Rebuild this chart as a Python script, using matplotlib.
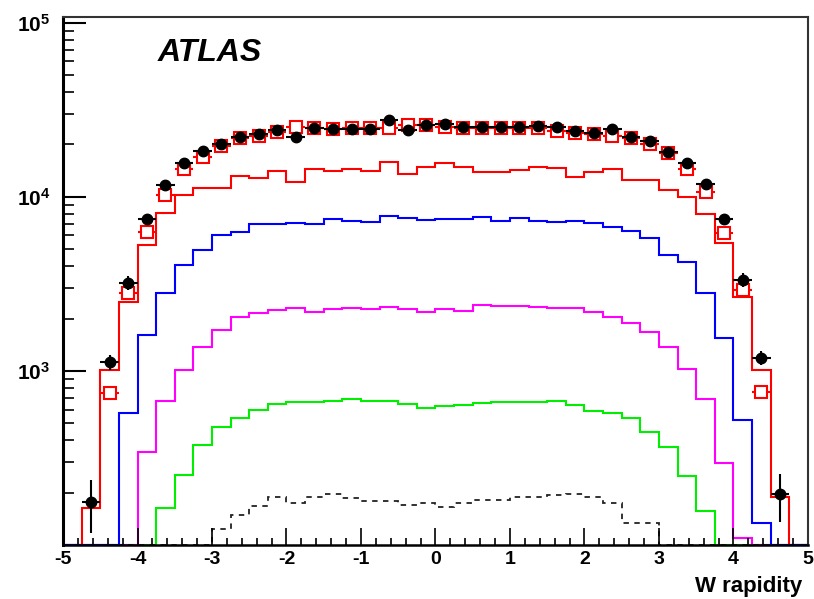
import matplotlib
matplotlib.use("Agg")
import matplotlib.pyplot as plt
import numpy as np
from matplotlib.ticker import FixedLocator, LogLocator, MultipleLocator, NullFormatter, FuncFormatter

# W rapidity binning: 40 bins of 0.25 between -5 and 5
bin_edges = np.arange(-5.0, 5.001, 0.25)
bin_centers = 0.5 * (bin_edges[:-1] + bin_edges[1:])

# MC histograms (one value per bin, 0 = below the axis)
red_hist = [0, 163, 1014, 2490, 5300, 8100, 10260, 11270, 11270, 13200,
            12900, 14100, 12200, 14500, 14100, 14500, 14100, 15900, 13600, 14900,
            15700, 14900, 13900, 13900, 14300, 14900, 14700, 13000, 13900, 14500,
            12500, 12500, 11000, 10000, 7980, 5440, 2660, 1014, 189, 0]
blue_hist = [0, 0, 0, 574, 1610, 2800, 4060, 4950, 6050, 6290,
             7000, 7000, 7100, 7000, 7480, 7270, 7180, 7790, 7580, 7370,
             7480, 7480, 7680, 7270, 7580, 7270, 7180, 7270, 7070, 6700,
             6390, 5800, 4640, 4230, 2800, 1550, 522, 134, 0, 0]
magenta_hist = [0, 0, 0, 0, 342, 673, 1013, 1374, 1720, 2040,
                2150, 2240, 2300, 2180, 2270, 2300, 2270, 2330, 2270, 2180,
                2270, 2210, 2390, 2360, 2360, 2330, 2300, 2300, 2180, 2050,
                1880, 1670, 1374, 1026, 690, 296, 110, 0, 0, 0]
green_hist = [0, 0, 0, 0, 0, 163, 252, 376, 476, 537,
              597, 645, 664, 664, 673, 690, 673, 673, 645, 613,
              628, 638, 655, 660, 664, 664, 673, 638, 590, 574,
              537, 447, 366, 249, 157, 0, 0, 0, 0, 0]
dashed_hist = [0, 0, 0, 0, 0, 0, 0, 0, 124, 149,
               168, 189, 174, 189, 196, 186, 179, 179, 170, 174,
               165, 174, 181, 181, 189, 189, 194, 196, 189, 174,
               134, 134, 0, 0, 0, 0, 0, 0, 0, 0]

# pseudo-data points (bins 1..38)
data_vals = [177, 1128, 3207, 7480, 11700, 15700, 18400, 20200, 22100, 23000,
             24300, 22100, 24900, 24600, 24600, 24600, 27700, 24300, 25900, 26300,
             25300, 25300, 25300, 25300, 25600, 25300, 24000, 23400, 24600, 22100,
             21000, 18200, 15700, 11900, 7480, 3330, 1190, 196]
data_err = [60, 110, 300, 500, 600, 650, 700, 700, 750, 750,
            750, 750, 750, 750, 750, 750, 800, 750, 750, 800,
            750, 750, 750, 750, 750, 750, 750, 750, 750, 750,
            700, 700, 650, 600, 500, 300, 110, 60]

# open red squares (bins 2..37)
mc_vals = [748, 2800, 6300, 10260, 14500, 17000, 19600, 21700, 22300, 23700,
           25200, 24900, 24600, 24900, 24900, 24900, 25900, 25900, 25300, 24900,
           24900, 24900, 24900, 24900, 24000, 23400, 23000, 22500, 21700, 20000,
           17900, 14500, 10700, 6200, 2920, 757]
mc_err = [60, 150, 250, 350, 400, 450, 450, 500, 500, 500,
          500, 500, 500, 500, 500, 500, 500, 500, 500, 500,
          500, 500, 500, 500, 500, 500, 500, 450, 450, 450,
          400, 350, 300, 250, 150, 60]

Y_MIN, Y_MAX = 100, 1.08e5

plt.rcParams['font.family'] = ['Liberation Sans', 'DejaVu Sans']
plt.rcParams['mathtext.fontset'] = 'custom'
plt.rcParams['mathtext.rm'] = 'Liberation Sans:bold'
plt.rcParams['mathtext.bf'] = 'Liberation Sans:bold'
plt.rcParams['mathtext.it'] = 'Liberation Sans:bold:italic'

fig = plt.figure(figsize=(8.14, 5.99), dpi=100)
ax = fig.add_axes([0.0774, 0.0902, 0.9152, 0.8814])
ax.set_yscale('log')

hists = [
    (green_hist, '#00ee00', '-'),
    (magenta_hist, '#ff00ff', '-'),
    (red_hist, '#ff0000', '-'),
    (dashed_hist, '#222222', (0, (3, 3))),
    (blue_hist, '#0000ff', '-'),
]
for vals, color, ls in hists:
    v = np.clip(np.array(vals, dtype=float), Y_MIN, None)
    ax.stairs(v, bin_edges, baseline=None, color=color, linestyle=ls,
              linewidth=1.5 if ls == '-' else 1.3)

# red open squares
ax.errorbar(bin_centers[2:38], mc_vals, yerr=mc_err, xerr=0.125,
            fmt='s', ms=8, mfc='white', mec='#ff0000', mew=1.5,
            ecolor='#ff0000', elinewidth=1.5, capsize=0, zorder=4)
# data points
ax.errorbar(bin_centers[1:39], data_vals, yerr=data_err, xerr=0.125,
            fmt='o', ms=7.5, color='black', ecolor='black',
            elinewidth=1.5, capsize=0, zorder=5)

ax.set_xlim(-5, 5)
ax.set_ylim(Y_MIN, Y_MAX)

ax.xaxis.set_major_locator(MultipleLocator(1))
ax.xaxis.set_minor_locator(MultipleLocator(0.2))
ax.yaxis.set_major_locator(FixedLocator([1e3, 1e4, 1e5]))
ax.yaxis.set_minor_locator(LogLocator(base=10, subs=np.arange(2, 10)))
ax.yaxis.set_minor_formatter(NullFormatter())
ax.yaxis.set_major_formatter(FuncFormatter(lambda v, p: r'$10^{%d}$' % round(np.log10(v))))
ax.xaxis.set_major_formatter(FuncFormatter(lambda v, p: '%d' % round(v)))

ax.tick_params(axis='x', which='major', direction='in', length=12, width=1.2,
               pad=4, labelsize=14)
ax.tick_params(axis='x', which='minor', direction='in', length=5, width=1.2)
ax.tick_params(axis='y', which='major', direction='in', length=16.5, width=1.5,
               pad=9, labelsize=15)
ax.tick_params(axis='y', which='minor', direction='in', length=8, width=1.2)
for lab in ax.get_xticklabels():
    lab.set_fontweight('bold')

ax.spines['left'].set_linewidth(2.2)
ax.spines['bottom'].set_linewidth(1.8)
for s in ('top', 'right'):
    ax.spines[s].set_linewidth(1.5)
    ax.spines[s].set_color('#333333')

ax.set_xlabel('W rapidity', fontsize=16, fontweight='bold', ha='right')
ax.xaxis.set_label_coords(0.992, -0.058)

ax.text(0.1275, 0.931, 'ATLAS', transform=ax.transAxes, fontsize=23,
        fontweight='bold', fontstyle='italic', va='center', ha='left')

fig.savefig('out.png', dpi=100)
